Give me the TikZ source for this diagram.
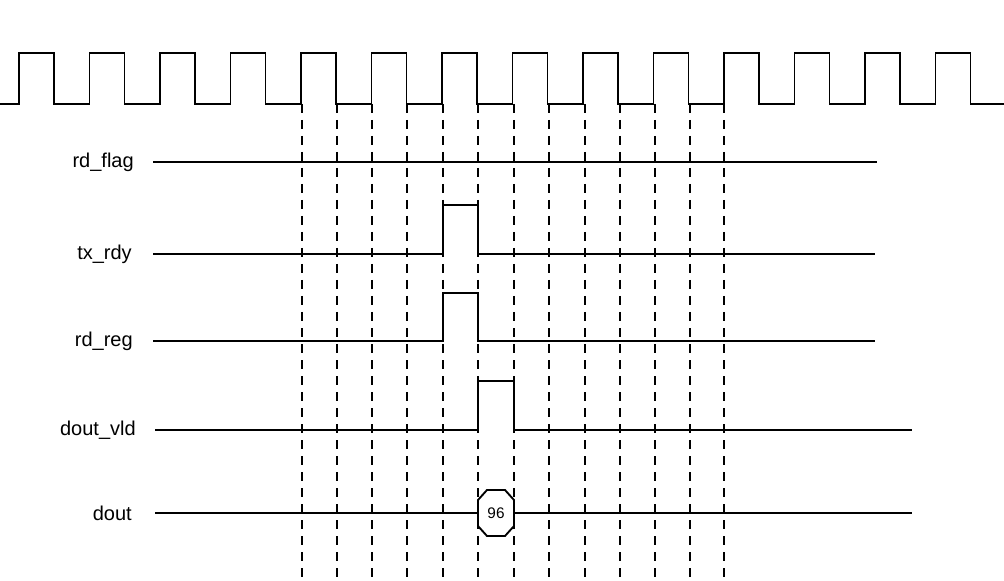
\documentclass[tikz,border=0pt]{standalone}
\usepackage{fontspec}
\setmainfont{Liberation Sans}
\begin{document}
\begin{tikzpicture}[x=0.75pt,y=-0.75pt,
  sig/.style={line width=1.4pt},
  grid/.style={dashed,line width=1.2pt,dash pattern=on 7pt off 5pt},
  lbl/.style={anchor=east,inner sep=0pt,font=\fontsize{15}{17}\selectfont}]
\useasboundingbox (0,0) rectangle (1004,581);
% clock
\draw[sig] (0,104)
  \foreach \i in {0,...,13} { -- ({19+70.5*\i},104) -- ({19+70.5*\i},53) -- ({54+70.5*\i},53) -- ({54+70.5*\i},104) }
  -- (1004,104);
% dashed lines
\foreach \x in {302,337,372,407,443,478,514,549,585,620,655,690,724}
  \draw[grid] (\x,104) -- (\x,581);
% labels
\node[lbl] (l1) at (134,162) {rd\_flag};
\node[lbl] (l2) at (132,254) {tx\_rdy};
\node[lbl] (l3) at (133,341) {rd\_reg};
\node[lbl] (l4) at (136,430) {dout\_vld};
\node[lbl] (l5) at (132,513) {dout};
% signals
\draw[sig] (153,162) -- (877,162);
\draw[sig] (153,254) -- (443,254) -- (443,205) -- (478,205) -- (478,254) -- (875,254);
\draw[sig] (153,341) -- (443,341) -- (443,293) -- (478,293) -- (478,341) -- (875,341);
\draw[sig] (155,430) -- (478,430) -- (478,381) -- (514,381) -- (514,430) -- (912,430);
\draw[sig,fill=white] (487,490) -- (505,490) -- (514,500) -- (514,526) -- (505,536) -- (487,536) -- (478,526) -- (478,500) -- cycle;
\node[font=\fontsize{11.5}{13}\selectfont] (v) at (496,513) {96};
\draw[sig] (155,513) -- (478,513);
\draw[sig] (514,513) -- (912,513);
\end{tikzpicture}
\end{document}
